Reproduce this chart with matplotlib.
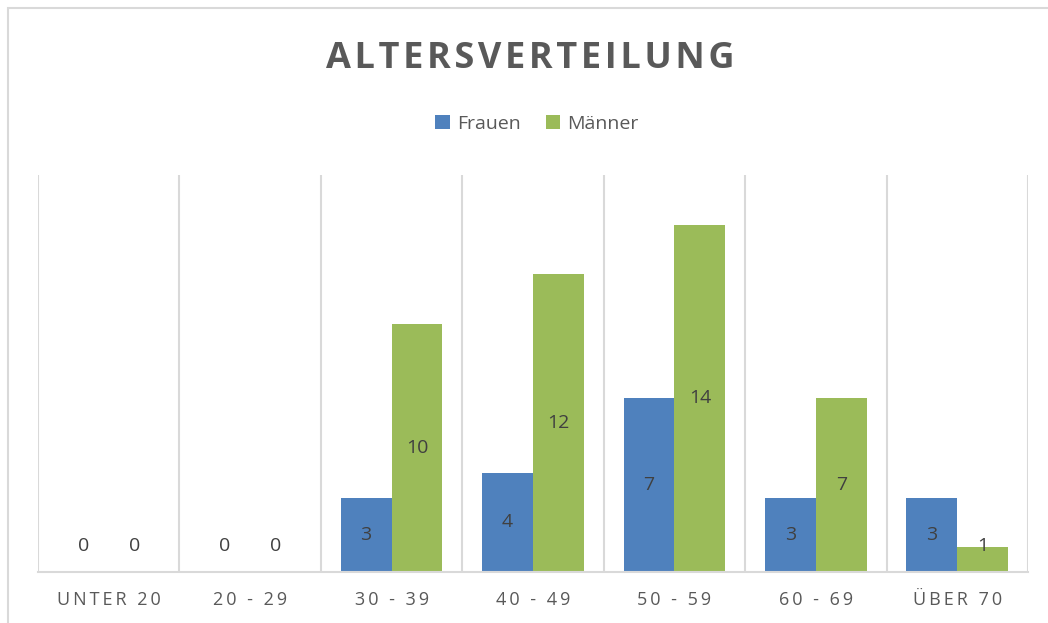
import matplotlib
matplotlib.use("Agg")
import matplotlib.pyplot as plt
from matplotlib.patches import Rectangle
import numpy as np

plt.rcParams['font.family'] = ['Open Sans', 'DejaVu Sans']

categories = ["UNTER 20", "20 - 29", "30 - 39", "40 - 49", "50 - 59", "60 - 69", "ÜBER 70"]
frauen = [0, 0, 3, 4, 7, 3, 3]
maenner = [0, 0, 10, 12, 14, 7, 1]
series_names = ["Frauen", "Männer"]
title = "ALTERSVERTEILUNG"

BLUE = "#4F81BD"
GREEN = "#9BBB59"
GRID = "#D9D9D9"
TXT = "#595959"
LBL = "#404040"

def spaced(s, sep="\u2009"):
    return sep.join(list(s))

fig = plt.figure(figsize=(10.48, 6.23), dpi=100)
fig.patches.append(Rectangle((8/1048, -0.2), 1.2, 1.2 - 8/623,
                             transform=fig.transFigure, fill=False,
                             edgecolor=GRID, linewidth=1.5, zorder=0))

ax = fig.add_axes([38/1048, 51/623, 990/1048, 397/623])
x = np.arange(len(categories))
w = 0.36
b1 = ax.bar(x - w/2, frauen, w, color=BLUE, label=series_names[0], zorder=2)
b2 = ax.bar(x + w/2, maenner, w, color=GREEN, label=series_names[1], zorder=2)

ax.set_xlim(-0.5, len(categories) - 0.5)
ax.set_ylim(0, 16)
ax.set_yticks([])
for s in ["top", "right", "left"]:
    ax.spines[s].set_visible(False)
ax.spines["bottom"].set_color(GRID)
ax.spines["bottom"].set_linewidth(1.5)
for b in np.arange(-0.5, len(categories), 1.0):
    ax.axvline(b, color=GRID, linewidth=1.5, zorder=1)

ax.set_xticks(x)
ax.set_xticklabels([spaced(c, "\u2009") for c in categories], color=TXT, fontsize=13)
ax.tick_params(axis="x", length=0, pad=14)

for xs, vals in ((x - w/2, frauen), (x + w/2, maenner)):
    for xi, v in zip(xs, vals):
        ax.text(xi, max(v/2, 1.05), str(v), ha="center", va="center",
                fontsize=14, color=LBL, zorder=3)

fig.text(530/1048, 1 - 59/623, spaced(title, "\u200a"), ha="center", va="center",
         fontsize=26, fontweight="bold", color=TXT)

leg = fig.legend(handles=[b1, b2], labels=series_names, loc="center",
                 bbox_to_anchor=(537/1048, 1 - 124/623), ncol=2, frameon=False,
                 fontsize=14, handlelength=0.75, handleheight=0.75,
                 handletextpad=0.35, columnspacing=1.3)
for t in leg.get_texts():
    t.set_color(TXT)

fig.savefig("out.png", dpi=100)
